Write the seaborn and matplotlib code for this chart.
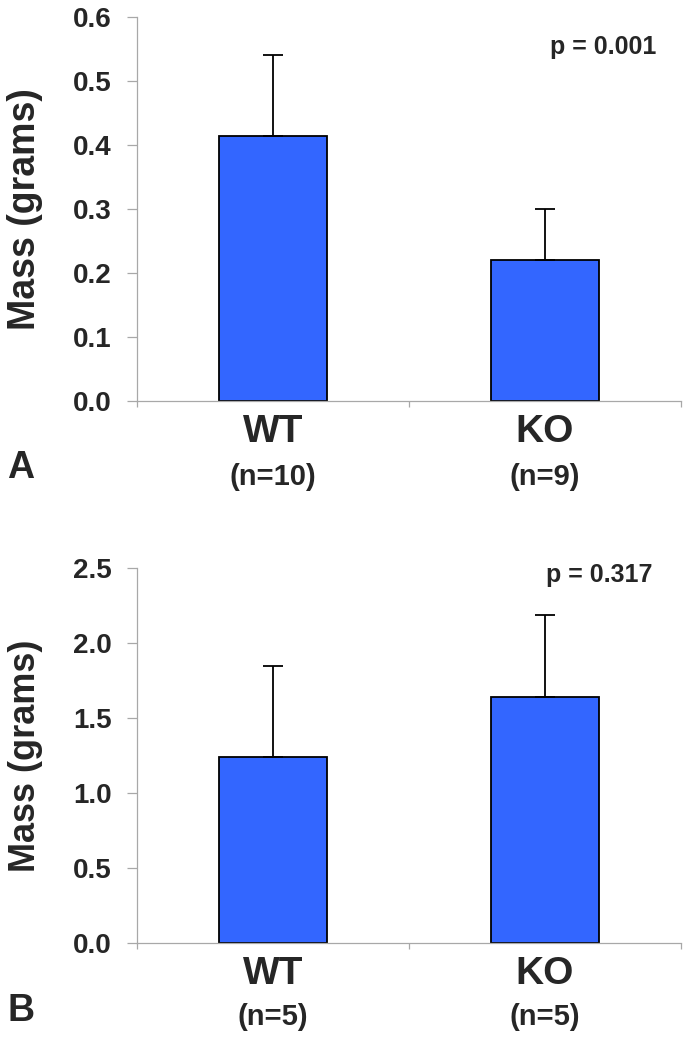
import matplotlib
matplotlib.use("Agg")
import matplotlib.pyplot as plt
import matplotlib.transforms as mtransforms
import seaborn as sns
import numpy as np
from matplotlib.ticker import FormatStrFormatter, FixedLocator

# data
groups = ["WT", "KO"]

mass_a = [0.414, 0.220]
sd_a = [0.127, 0.080]
n_a = ["(n=10)", "(n=9)"]
p_a = "p = 0.001"
yticks_a = [0.0, 0.1, 0.2, 0.3, 0.4, 0.5, 0.6]

mass_b = [1.24, 1.64]
sd_b = [0.607, 0.547]
n_b = ["(n=5)", "(n=5)"]
p_b = "p = 0.317"
yticks_b = [0.0, 0.5, 1.0, 1.5, 2.0, 2.5]

sns.set_style("white")
plt.rcParams['font.family'] = ['Liberation Sans', 'DejaVu Sans']
plt.rcParams['font.weight'] = 'bold'

W, H = 685, 1039
fig = plt.figure(figsize=(W / 100, H / 100), dpi=100)

bar_color = "#3366ff"
spine_color = "#a8a8a8"


def draw_panel(ax, means, sds, ns, ptxt, yticks, ptxt_pos, ylab_size, letter, letter_y):
    sns.barplot(x=groups, y=means, ax=ax, color=bar_color, saturation=1,
                width=0.4, edgecolor="black", linewidth=1.3, errorbar=None)
    ax.errorbar(range(len(groups)), means, yerr=[np.zeros(len(sds)), sds],
                fmt="none", ecolor="black", elinewidth=1.3, capsize=7,
                capthick=1.3, zorder=1)

    ax.set_xlim(-0.5, 1.5)
    ax.set_ylim(yticks[0], yticks[-1])
    ax.yaxis.set_major_locator(FixedLocator(yticks))
    ax.yaxis.set_major_formatter(FormatStrFormatter('%.1f'))

    for s in ["top", "right"]:
        ax.spines[s].set_visible(False)
    for s in ["left", "bottom"]:
        ax.spines[s].set_color(spine_color)
        ax.spines[s].set_linewidth(0.9)

    ax.tick_params(axis="y", which="major", direction="out", length=7,
                   width=0.9, color=spine_color, pad=11, labelsize=20, left=True)
    ax.set_xticks(range(len(groups)))
    ax.set_xticklabels(groups, fontsize=28, fontweight="bold")
    ax.tick_params(axis="x", which="major", length=0, pad=9)
    ax.set_xticks([-0.5, 0.5, 1.5], minor=True)
    ax.tick_params(axis="x", which="minor", direction="out", length=4,
                   width=0.9, color=spine_color, bottom=True)
    for lab in ax.get_yticklabels():
        lab.set_fontweight("bold")

    ax.set_xlabel("")
    ax.set_ylabel("Mass (grams)", fontsize=ylab_size, fontweight="bold")
    ax.yaxis.set_label_coords(-0.173, 0.5)

    trans = mtransforms.blended_transform_factory(ax.transData, ax.transAxes)
    for i, n in enumerate(ns):
        ax.text(i, -0.197, n, transform=trans, ha="center", va="center",
                fontsize=21, fontweight="bold")

    ax.text(ptxt_pos[0], ptxt_pos[1], ptxt, transform=ax.transAxes,
            ha="center", va="center", fontsize=18, fontweight="bold")

    fig.text(21 / W, 1 - letter_y / H, letter, ha="center", va="center",
             fontsize=27, fontweight="bold")


ax_a = fig.add_axes([137 / W, 1 - 401 / H, 544 / W, 384 / H])
draw_panel(ax_a, mass_a, sd_a, n_a, p_a, yticks_a, (0.857, 0.922), 27, "A", 468)

ax_b = fig.add_axes([137 / W, 1 - 943 / H, 544 / W, 375 / H])
draw_panel(ax_b, mass_b, sd_b, n_b, p_b, yticks_b, (0.849, 0.981), 26, "B", 1011)

fig.savefig("out.png", dpi=100)
